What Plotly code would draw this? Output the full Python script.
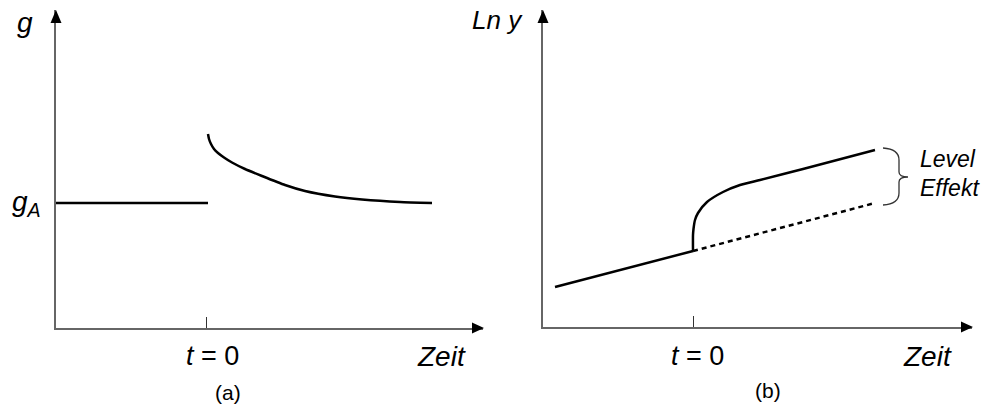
import plotly.graph_objects as go

# panel (a): growth rate g over time
t_before_a = [-3.0, 0.04]
g_before = [1.0, 1.0]
t_after_a = [0.04, 0.06, 0.10, 0.16, 0.24, 0.36, 0.52, 0.78, 1.12, 1.58, 1.98, 2.58, 3.12, 3.88, 4.52]
g_after = [1.552, 1.512, 1.472, 1.432, 1.400, 1.364, 1.324, 1.272, 1.216, 1.144, 1.096, 1.052,
           1.028, 1.008, 1.0]

# panel (b): Ln y over time
t_before_b = [-2.76, 0.0]
lny_before = [0.40, 0.76]
t_after_b = [0.0, 0.0, 0.01, 0.04, 0.1, 0.28, 0.6, 0.94, 1.34, 2.2, 3.64]
lny_after = [0.76, 0.92, 0.98, 1.07, 1.14, 1.25, 1.35, 1.42, 1.47, 1.58, 1.77]
t_trend = [0.0, 3.64]
lny_trend = [0.76, 1.24]

W, H = 983, 407
FONT = "Liberation Sans, Arial, sans-serif"
AXIS_COLOR = "#666666"


def px(x):
    return x / W


def py(y):
    return 1 - y / H


fig = go.Figure()

fig.add_trace(go.Scatter(x=t_before_a, y=g_before, mode="lines",
                         line=dict(color="black", width=2.5), xaxis="x", yaxis="y"))
fig.add_trace(go.Scatter(x=t_after_a, y=g_after, mode="lines",
                         line=dict(color="black", width=2.5, shape="spline", smoothing=0.5),
                         xaxis="x", yaxis="y"))
fig.add_trace(go.Scatter(x=t_before_b, y=lny_before, mode="lines",
                         line=dict(color="black", width=2.5), xaxis="x2", yaxis="y2"))
fig.add_trace(go.Scatter(x=t_after_b, y=lny_after, mode="lines",
                         line=dict(color="black", width=2.5, shape="spline", smoothing=0.6),
                         xaxis="x2", yaxis="y2"))
fig.add_trace(go.Scatter(x=t_trend, y=lny_trend, mode="lines",
                         line=dict(color="black", width=2.5, dash="5px,4px"), xaxis="x2", yaxis="y2"))

axis_common = dict(showgrid=False, zeroline=False, showline=True, linecolor=AXIS_COLOR,
                   linewidth=1.5, fixedrange=True)
xa = dict(axis_common, tickvals=[0], ticks="inside", ticklen=11, tickcolor="#333333",
          tickwidth=1, showticklabels=False)
ya = dict(axis_common, showticklabels=False, ticks="")

x_a_max = (483 - 56) / 50 - 3.0
x_b_max = (972 - 543) / 50 - 3.0
y_a_max = 318 / 125
y_b_max = 317 / 100

fig.update_layout(
    width=W, height=H,
    margin=dict(l=0, r=0, t=0, b=0),
    paper_bgcolor="white", plot_bgcolor="white",
    showlegend=False,
    xaxis=dict(xa, domain=[px(56), px(483)], range=[-3.0, x_a_max], anchor="y"),
    yaxis=dict(ya, domain=[py(328), py(10)], range=[0, y_a_max], anchor="x"),
    xaxis2=dict(xa, domain=[px(543), px(972)], range=[-3.0, x_b_max], anchor="y2"),
    yaxis2=dict(ya, domain=[py(327), py(10)], range=[0, y_b_max], anchor="x2"),
)

# arrow heads on the axes (paper refs so they are not clipped)
for x0, x1, y0 in [(56, 483, 328), (543, 972, 327)]:
    fig.add_shape(type="path", xref="paper", yref="paper", xsizemode="pixel", ysizemode="pixel",
                  xanchor=px(x1), yanchor=py(y0), path="M1,0 L-11,5.5 L-11,-5.5 Z",
                  fillcolor="black", line=dict(width=0))
    fig.add_shape(type="path", xref="paper", yref="paper", xsizemode="pixel", ysizemode="pixel",
                  xanchor=px(x0), yanchor=py(10), path="M0,0 L-5.5,-13 L5.5,-13 Z",
                  fillcolor="black", line=dict(width=0))

# curly brace for the level effect
path = (f"M{px(883)},{py(148)} Q{px(899)},{py(149)} {px(899)},{py(160)} "
        f"L{px(899)},{py(172)} Q{px(899)},{py(177)} {px(908)},{py(177)} "
        f"Q{px(899)},{py(177)} {px(899)},{py(182)} L{px(899)},{py(193)} "
        f"Q{px(899)},{py(204)} {px(883)},{py(205)}")
fig.add_shape(type="path", xref="paper", yref="paper", path=path,
              line=dict(color="#333333", width=1.3))


def label(text, x, y, size=24, xanchor="center"):
    fig.add_annotation(text=text, x=px(x), y=py(y), xref="paper", yref="paper",
                       showarrow=False, xanchor=xanchor, yanchor="middle",
                       font=dict(family=FONT, size=size, color="black"))


label("<i>g</i>", 25, 23, size=28)
label("<i>g<sub>A</sub></i>", 43, 203, size=28, xanchor="right")
label("<i>Ln y</i>", 497, 20, size=26)
label("<i>t</i> = 0", 212, 356, size=27)
label("<i>t</i> = 0", 697, 356, size=27)
label("<i>Zeit</i>", 441, 356, size=28)
label("<i>Zeit</i>", 927, 356, size=28)
label("(a)", 228, 392, size=21)
label("(b)", 768, 390, size=21)
label("<i>Level</i>", 918, 159, size=23, xanchor="left")
label("<i>Effekt</i>", 918, 188, size=23, xanchor="left")

fig.write_html("out.html", config={"displayModeBar": False},
               post_script="document.body.style.margin='0px';")
